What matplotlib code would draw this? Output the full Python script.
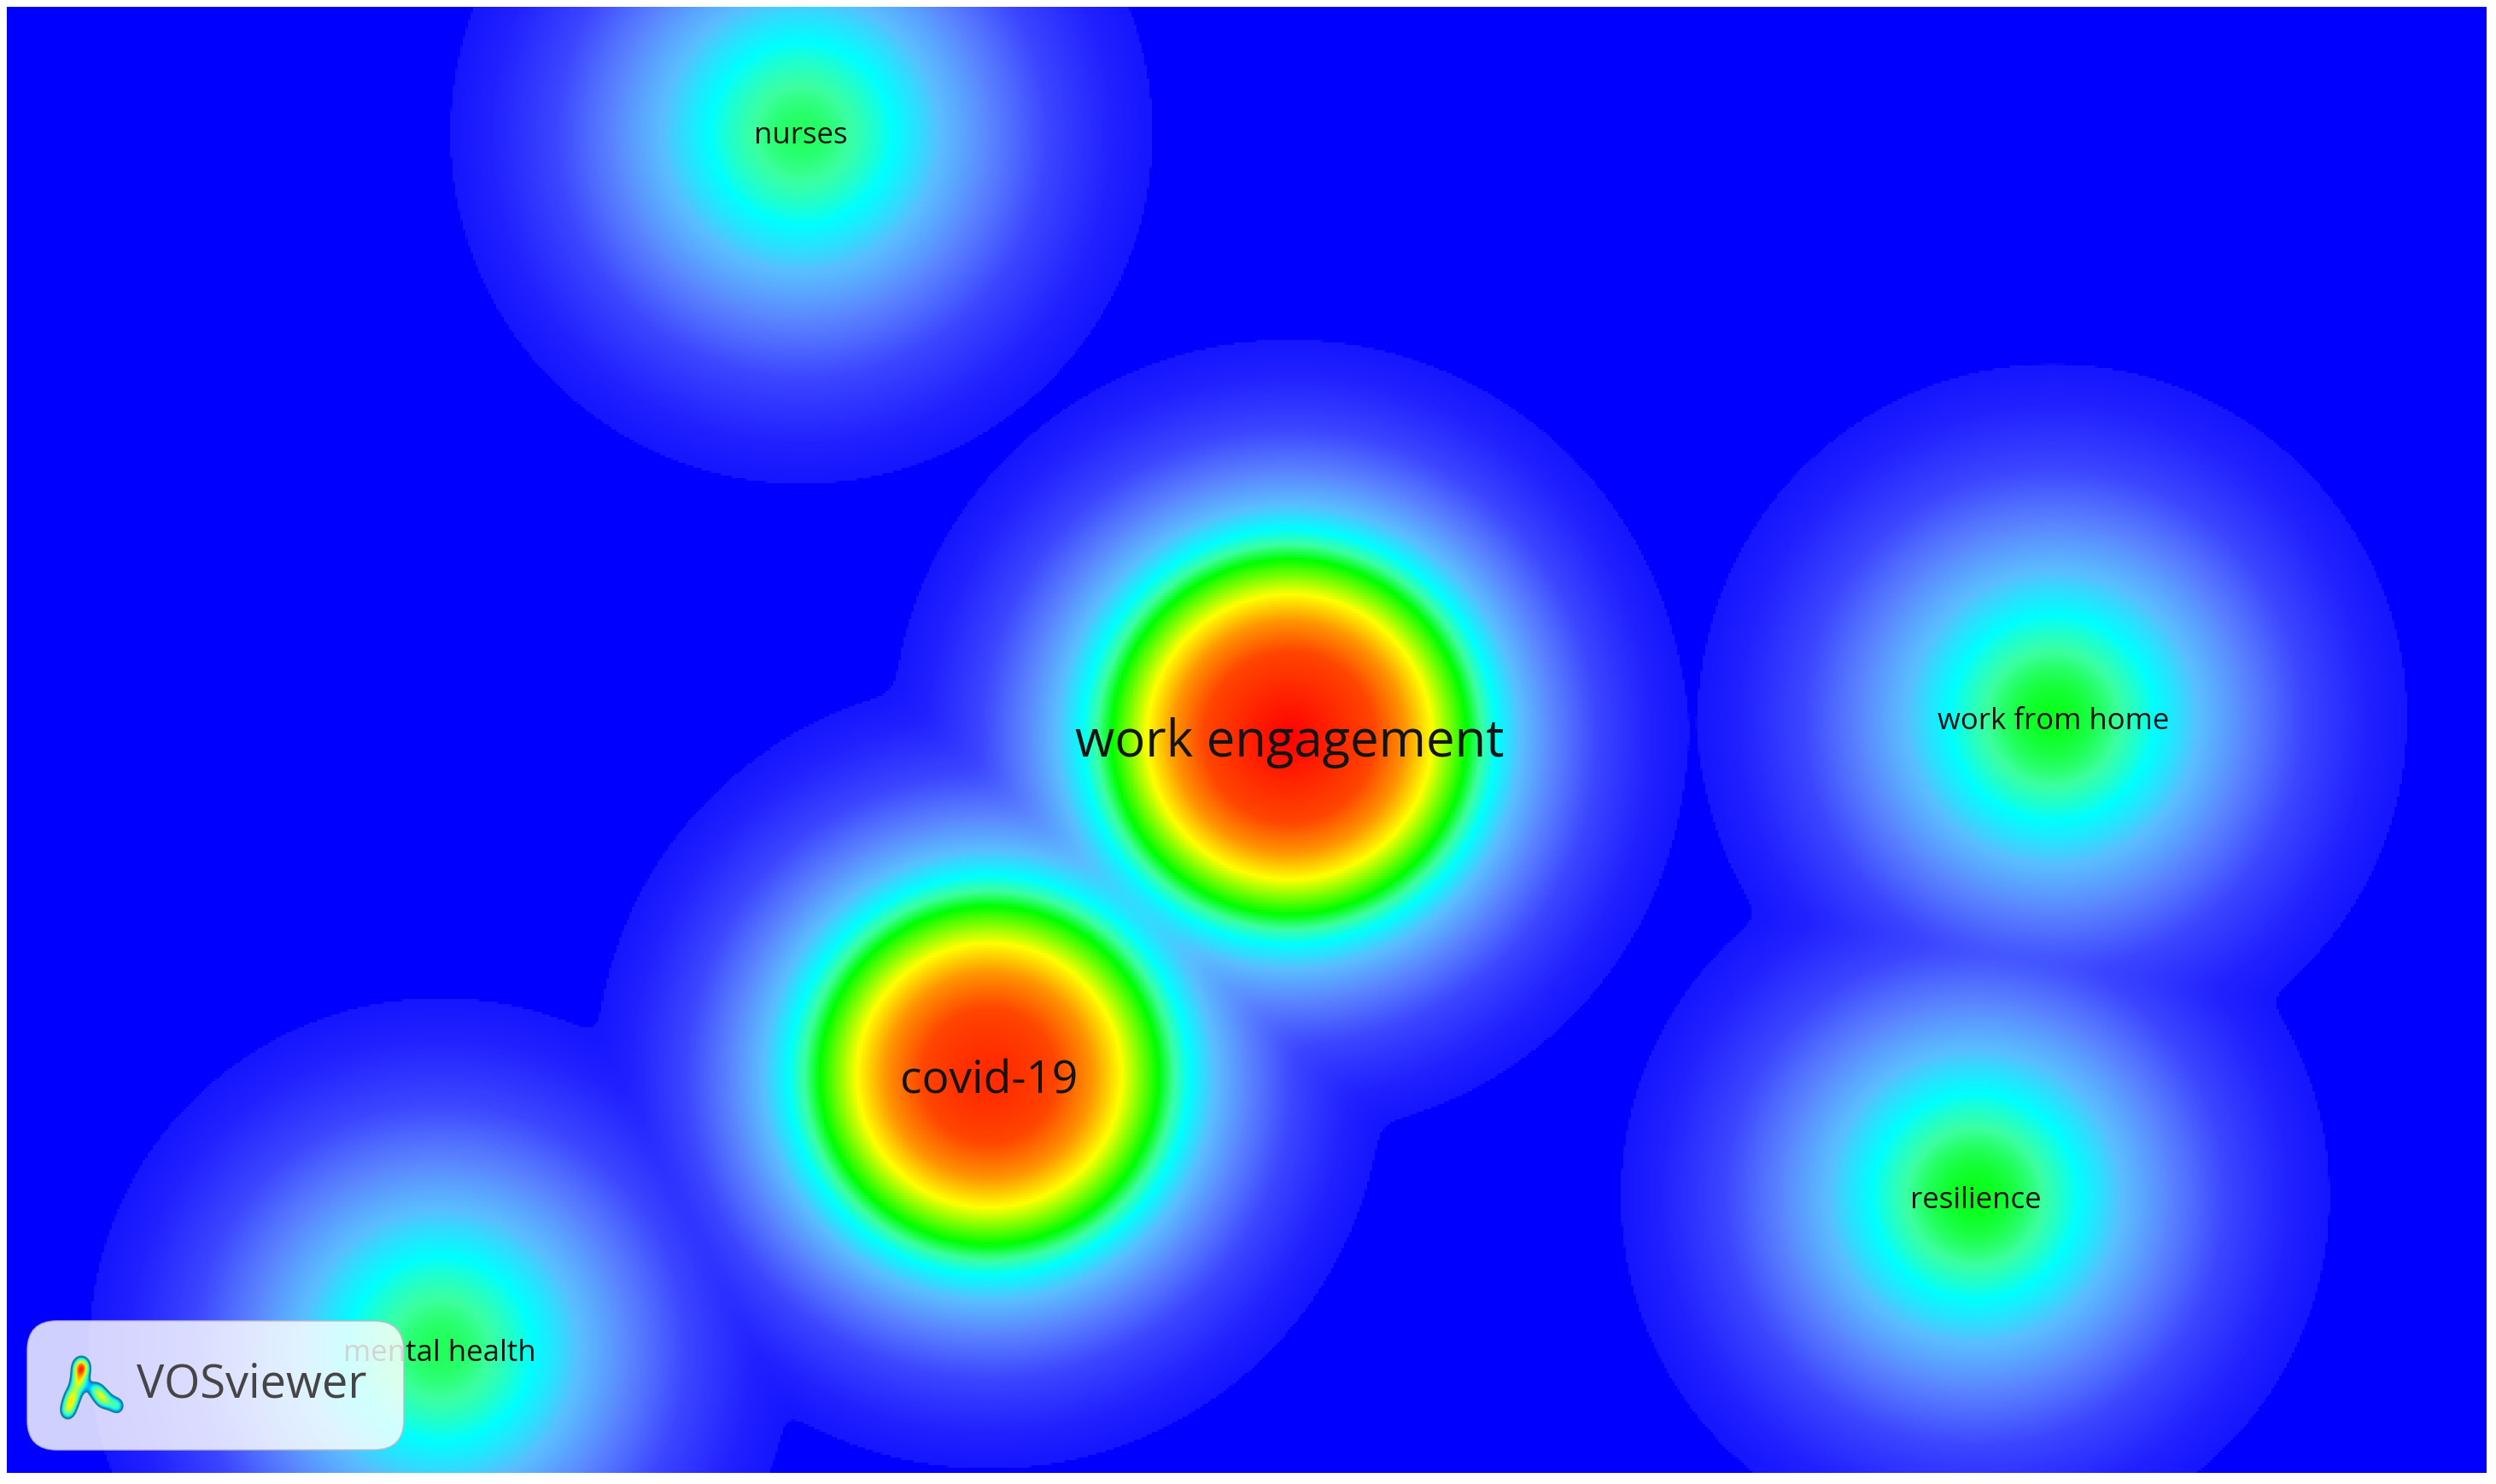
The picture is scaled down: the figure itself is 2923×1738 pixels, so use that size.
import numpy as np
import matplotlib.pyplot as plt
from matplotlib.colors import LinearSegmentedColormap, Normalize
from matplotlib.patches import FancyBboxPatch

# term positions in map units (y grows downward) and density weights
labels = ["nurses", "work engagement", "covid-19", "work from home", "resilience", "mental health"]
x = [9.30, 15.02, 11.50, 23.97, 23.06, 5.07]
y = [1.47, 8.55, 12.52, 8.33, 13.94, 15.73]
weight = [0.0026, 1.0, 0.62, 0.0038, 0.0039, 0.0027]

map_w, map_h = 29.04, 17.17
kernel_width = 0.8   # gaussian exp(-d^2 / kernel_width)

# colour scale, given as the distance (map units) from a weight-1 item
# at which each colour appears
scale_pos = [0.0, 1.0, 1.36, 1.67, 2.08, 2.25, 2.43, 2.72, 3.12, 3.61, 4.26, 4.655, 4.66, 6.0]
scale_rgb = [(255, 0, 0), (255, 70, 0), (255, 150, 0), (255, 255, 0), (0, 255, 0),
             (60, 255, 160), (0, 255, 255), (90, 190, 255), (90, 130, 255), (60, 70, 255),
             (32, 32, 255), (22, 22, 255), (0, 0, 255), (0, 0, 255)]
rmax = scale_pos[-1]
cmap = LinearSegmentedColormap.from_list(
    "vos", [(p / rmax, tuple(c / 255 for c in rgb)) for p, rgb in zip(scale_pos, scale_rgb)],
    N=4096)

label_pt = {"work engagement": 43, "covid-19": 38.3}

gx = np.linspace(0, map_w, 968)
gy = np.linspace(0, map_h, 572)
X, Y = np.meshgrid(gx, gy)
dens = np.zeros_like(X)
for xi, yi, wi in zip(x, y, weight):
    dens += wi * np.exp(-((X - xi) ** 2 + (Y - yi) ** 2) / kernel_width)
dens = np.clip(dens, 1e-300, 1.0)
equiv_r = np.sqrt(-kernel_width * np.log(dens))

fig = plt.figure(figsize=(29.23, 17.38), dpi=100)
ax = fig.add_axes([8 / 2923, 13 / 1738, 2904 / 2923, 1717 / 1738])
ax.imshow(equiv_r, extent=(0, map_w, map_h, 0), cmap=cmap, norm=Normalize(0, rmax),
          interpolation="nearest", aspect="auto")
ax.set_xlim(0, map_w)
ax.set_ylim(map_h, 0)
ax.axis("off")

for lab, xi, yi in zip(labels, x, y):
    ax.text(xi, yi, lab, ha="center", va="center_baseline", fontsize=label_pt.get(lab, 25),
            family="Open Sans", color="#141414", zorder=3)

# VOSviewer badge
badge = FancyBboxPatch((0.32, 0.40), 4.41, 1.51, boxstyle="round,pad=0,rounding_size=0.35",
                       transform=fig.dpi_scale_trans, facecolor="white", alpha=0.82,
                       edgecolor="#b8b8c8", linewidth=1.2, zorder=5)
fig.patches.append(badge)
fig.text(1.60 / 29.23, (17.38 - 16.22) / 17.38, "VOSviewer", fontsize=39, family="Open Sans",
         color="#454545", ha="left", va="center", zorder=6)

# little density logo in the badge
icon_x = [0.37, 0.33, 0.25, 0.19, 0.56, 0.66, 0.84]
icon_y = [0.76, 0.56, 0.36, 0.18, 0.46, 0.33, 0.25]
icon_w = [1.0, 0.65, 0.7, 0.65, 0.55, 0.62, 0.58]
ix = np.linspace(0, 1, 240)
IX, IY = np.meshgrid(ix, ix)
idens = np.zeros_like(IX)
for xi, yi, wi in zip(icon_x, icon_y, icon_w):
    idens += wi * np.exp(-((IX - xi) ** 2 / 0.016 + (IY - yi) ** 2 / 0.022))
iax = fig.add_axes([62 / 2923, (1738 - 1670) / 1738, 90 / 2923, 92 / 1738], zorder=7)
iax.imshow(np.ma.masked_less(idens, 0.45), origin="lower", extent=(0, 1, 0, 1),
           cmap="jet", vmin=0.2, vmax=1.25)
iax.contour(IX, IY, idens, levels=[0.45], colors="#1f7f8f", linewidths=1.5)
iax.set_xlim(0, 1)
iax.set_ylim(0, 1)
iax.axis("off")

fig.savefig("out.png", dpi=100, facecolor="white")
